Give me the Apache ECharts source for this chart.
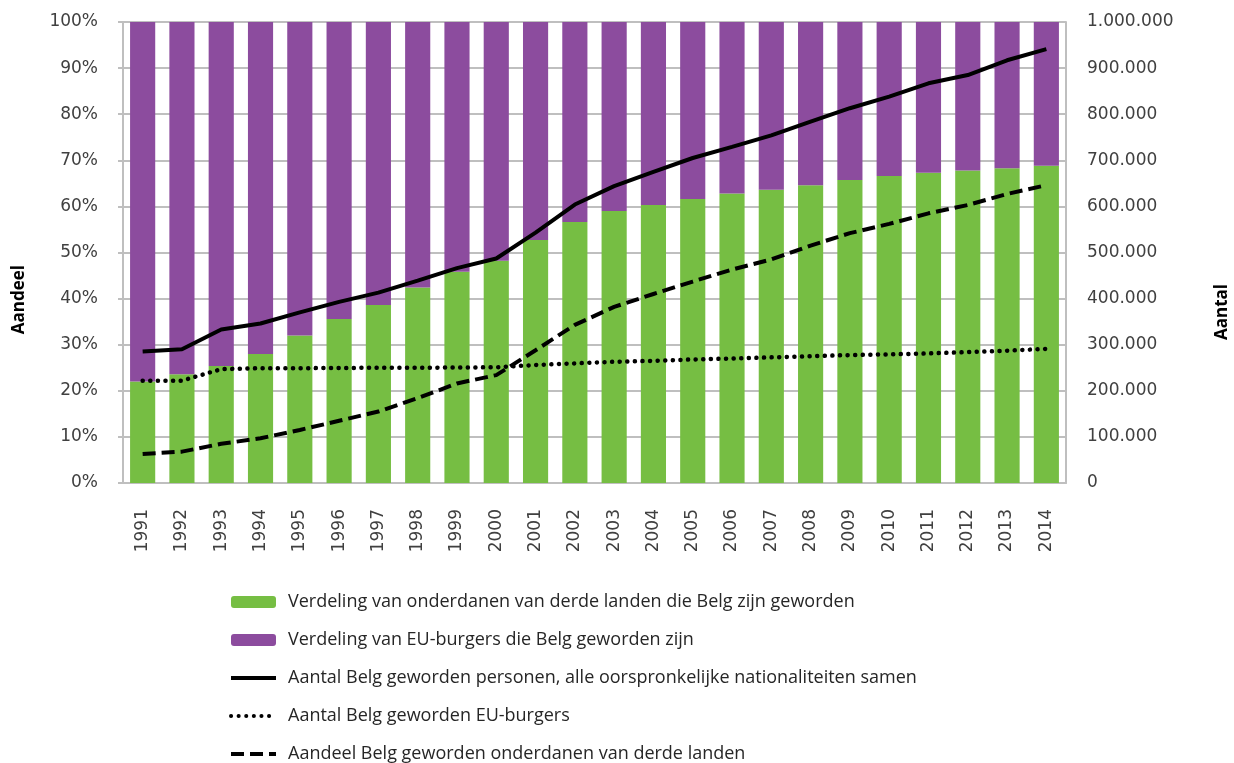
<!DOCTYPE html>
<html><head><meta charset="utf-8">
<script src="https://cdn.jsdelivr.net/npm/echarts@6/dist/echarts.min.js"></script>
<style>html,body{margin:0;padding:0;background:#fff}#c{width:1234px;height:763px}</style>
</head><body><div id="c"></div>
<script>
const years = ['1991','1992','1993','1994','1995','1996','1997','1998','1999','2000','2001','2002','2003','2004','2005','2006','2007','2008','2009','2010','2011','2012','2013','2014'];
const shareThird = [22.0,23.6,25.4,28.0,32.0,35.6,38.6,42.4,45.8,48.2,52.7,56.6,59.0,60.3,61.6,62.8,63.6,64.6,65.7,66.6,67.3,67.8,68.3,68.8];
const shareEU = shareThird.map(v => +(100 - v).toFixed(1));
const totalCount = [285000,290000,333000,346000,370000,393000,413000,439000,466000,487000,543000,604000,644000,675000,705000,729000,754000,784000,813000,838000,867000,885000,917000,941000];
const euCount = [222000,222000,247000,249000,249000,249500,250000,250000,250500,251000,256000,259500,263000,265000,268000,270000,272500,275000,277500,279000,281000,284000,287000,291000];
const thirdCount = [63000,68000,85000,97000,115000,135000,155000,184000,216000,234000,288000,343000,382000,410000,437000,463000,485000,515000,542000,562000,585000,603000,627000,646000];
const leftTicks = ['0%','10%','20%','30%','40%','50%','60%','70%','80%','90%','100%'];
const names = [
  'Verdeling van onderdanen van derde landen die Belg zijn geworden',
  'Verdeling van EU-burgers die Belg geworden zijn',
  'Aantal Belg geworden personen, alle oorspronkelijke nationaliteiten samen',
  'Aantal Belg geworden EU-burgers',
  'Aandeel Belg geworden onderdanen van derde landen'
];
const AXF = 'DejaVu Sans';
const LGF = 'Open Sans';
const chart = echarts.init(document.getElementById('c'));
const grey = '#bfbfbf';
const lineLegend = n => ({name: n, itemStyle: {color: 'rgba(0,0,0,0)', borderWidth: 0}, lineStyle: {width: 4}});
chart.setOption({
  animation: false,
  textStyle: {fontFamily: AXF},
  grid: {left: 123, right: 168, top: 22, bottom: 280},
  legend: {
    orient: 'vertical', left: 224, top: 586, height: 200,
    itemWidth: 45, itemHeight: 12, itemGap: 16,
    data: [names[0], names[1], lineLegend(names[2]), lineLegend(names[3]), lineLegend(names[4])],
    textStyle: {fontFamily: LGF, fontSize: 18, color: '#262626', lineHeight: 22, padding: [0, 0, 0, 7]}
  },
  xAxis: {
    type: 'category', data: years,
    axisLine: {lineStyle: {color: grey, width: 2}},
    axisTick: {show: false},
    axisLabel: {rotate: 90, fontSize: 17, color: '#404040', margin: 26, fontFamily: AXF}
  },
  yAxis: [{
    type: 'value', min: 0, max: 100, interval: 10,
    axisLine: {show: true, lineStyle: {color: grey, width: 2}},
    axisTick: {show: true, length: 5, lineStyle: {color: grey, width: 2}},
    splitLine: {lineStyle: {color: grey, width: 2}},
    axisLabel: {fontSize: 17, color: '#404040', margin: 25, fontFamily: AXF,
      formatter: v => leftTicks[Math.round(v / 10)]}
  }, {
    type: 'value', min: 0, max: 1000000, interval: 100000,
    axisLine: {show: true, lineStyle: {color: grey, width: 2}},
    axisTick: {show: false},
    splitLine: {show: false},
    axisLabel: {fontSize: 17, color: '#404040', margin: 21, fontFamily: AXF,
      formatter: v => v === 0 ? '0' : v.toLocaleString('de-DE')}
  }],
  graphic: [
    {type: 'text', left: 11, top: 265, rotation: Math.PI / 2,
      style: {text: 'Aandeel', font: 'bold 17px "Open Sans"', fill: '#000'}},
    {type: 'text', left: 1214, top: 284, rotation: Math.PI / 2,
      style: {text: 'Aantal', font: 'bold 17px "Open Sans"', fill: '#000'}}
  ],
  series: [
    {name: names[0], type: 'bar', stack: 's', data: shareThird, barCategoryGap: '36%',
      itemStyle: {color: '#76BE43'}},
    {name: names[1], type: 'bar', stack: 's', data: shareEU,
      itemStyle: {color: '#8C4C9E'}},
    {name: names[2], type: 'line', yAxisIndex: 1, data: totalCount, symbol: 'none',
      lineStyle: {color: '#000', width: 4}, itemStyle: {color: '#000'}},
    {name: names[3], type: 'line', yAxisIndex: 1, data: euCount, symbol: 'none',
      lineStyle: {color: '#000', width: 4.5, type: [0.1, 7.5], cap: 'round'}, itemStyle: {color: '#000'}},
    {name: names[4], type: 'line', yAxisIndex: 1, data: thirdCount, symbol: 'none',
      lineStyle: {color: '#000', width: 4, type: [13, 6]}, itemStyle: {color: '#000'}}
  ]
});
</script></body></html>
